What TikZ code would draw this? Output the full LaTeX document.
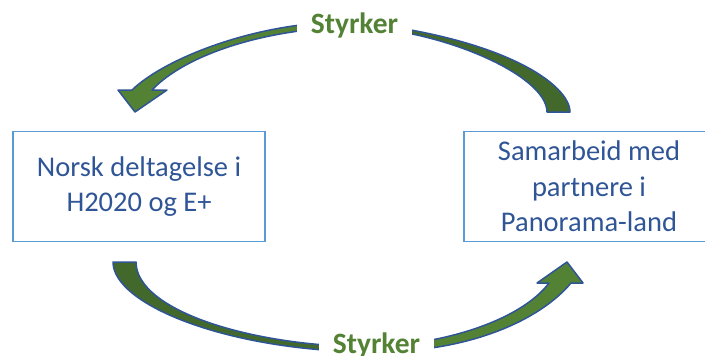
\documentclass[tikz,border=0pt]{standalone}
\usepackage{fontspec}
\setmainfont{Carlito}
\definecolor{boxblue}{HTML}{5B9BD5}
\definecolor{textblue}{HTML}{2F5597}
\definecolor{edgeblue}{HTML}{2F5597}
\definecolor{leafgreen}{HTML}{548235}
\definecolor{mossgreen}{HTML}{43682B}
\tikzset{
  box/.style={draw=boxblue, line width=1.5pt, text=textblue, align=center,
    font=\fontsize{28.5}{35.5}\selectfont, minimum height=110pt},
  band/.style={draw=edgeblue, line width=1.5pt, line join=round},
  tag/.style={fill=white, text=leafgreen, font=\fontsize{29.5}{32}\selectfont\bfseries,
    inner xsep=14pt, inner ysep=5pt, anchor=base}
}
\begin{document}
\begin{tikzpicture}[x=1pt,y=-1pt]
\useasboundingbox (0,0) rectangle (705,356);
\node[box, minimum width=252pt] (norsk) at (139,186.7) {Norsk deltagelse i\\H2020 og E+};
\node[box, minimum width=250pt] (samarbeid) at (589,186.7) {Samarbeid med\\partnere i\\Panorama-land};

\coordinate (TF1) at (570,112);
\coordinate (TF2) at (547,112);
\coordinate (TP1) at (355,22);
\coordinate (TP2) at (355,27);
\coordinate (TN1) at (132,90);
\coordinate (TN2) at (152,90);
\coordinate (TB1) at (118,90);
\coordinate (TB2) at (167,90);
\coordinate (TT) at (135,112);
\draw[band, fill=mossgreen] (TF1) .. controls (570,85) and (505,38) .. (TP1) -- (TP2) .. controls (440,29) and (547,75) .. (TF2) -- cycle;
\draw[band, fill=leafgreen] (TP1) .. controls (260,20) and (165,58) .. (TN1) -- (TB1) -- (TT) -- (TB2) -- (TN2) .. controls (185,55) and (265,28) .. (TP2) -- cycle;

\coordinate (BF1) at (113,262);
\coordinate (BF2) at (136,262);
\coordinate (BP1) at (375,352);
\coordinate (BP2) at (375,347);
\coordinate (BN1) at (571,283);
\coordinate (BN2) at (549,283);
\coordinate (BB1) at (583,283);
\coordinate (BB2) at (537,283);
\coordinate (BT) at (567,262);
\draw[band, fill=mossgreen] (BF1) .. controls (113,305) and (230,352) .. (BP1) -- (BP2) .. controls (250,347) and (136,310) .. (BF2) -- cycle;
\draw[band, fill=leafgreen] (BP1) .. controls (470,352) and (540,320) .. (BN1) -- (BB1) -- (BT) -- (BB2) -- (BN2) .. controls (525,315) and (460,342) .. (BP2) -- cycle;

\node[tag] (styrkertop) at (354.5,33) {Styrker};
\node[tag] (styrkerbottom) at (376.5,353) {Styrker};
\end{tikzpicture}
\end{document}
